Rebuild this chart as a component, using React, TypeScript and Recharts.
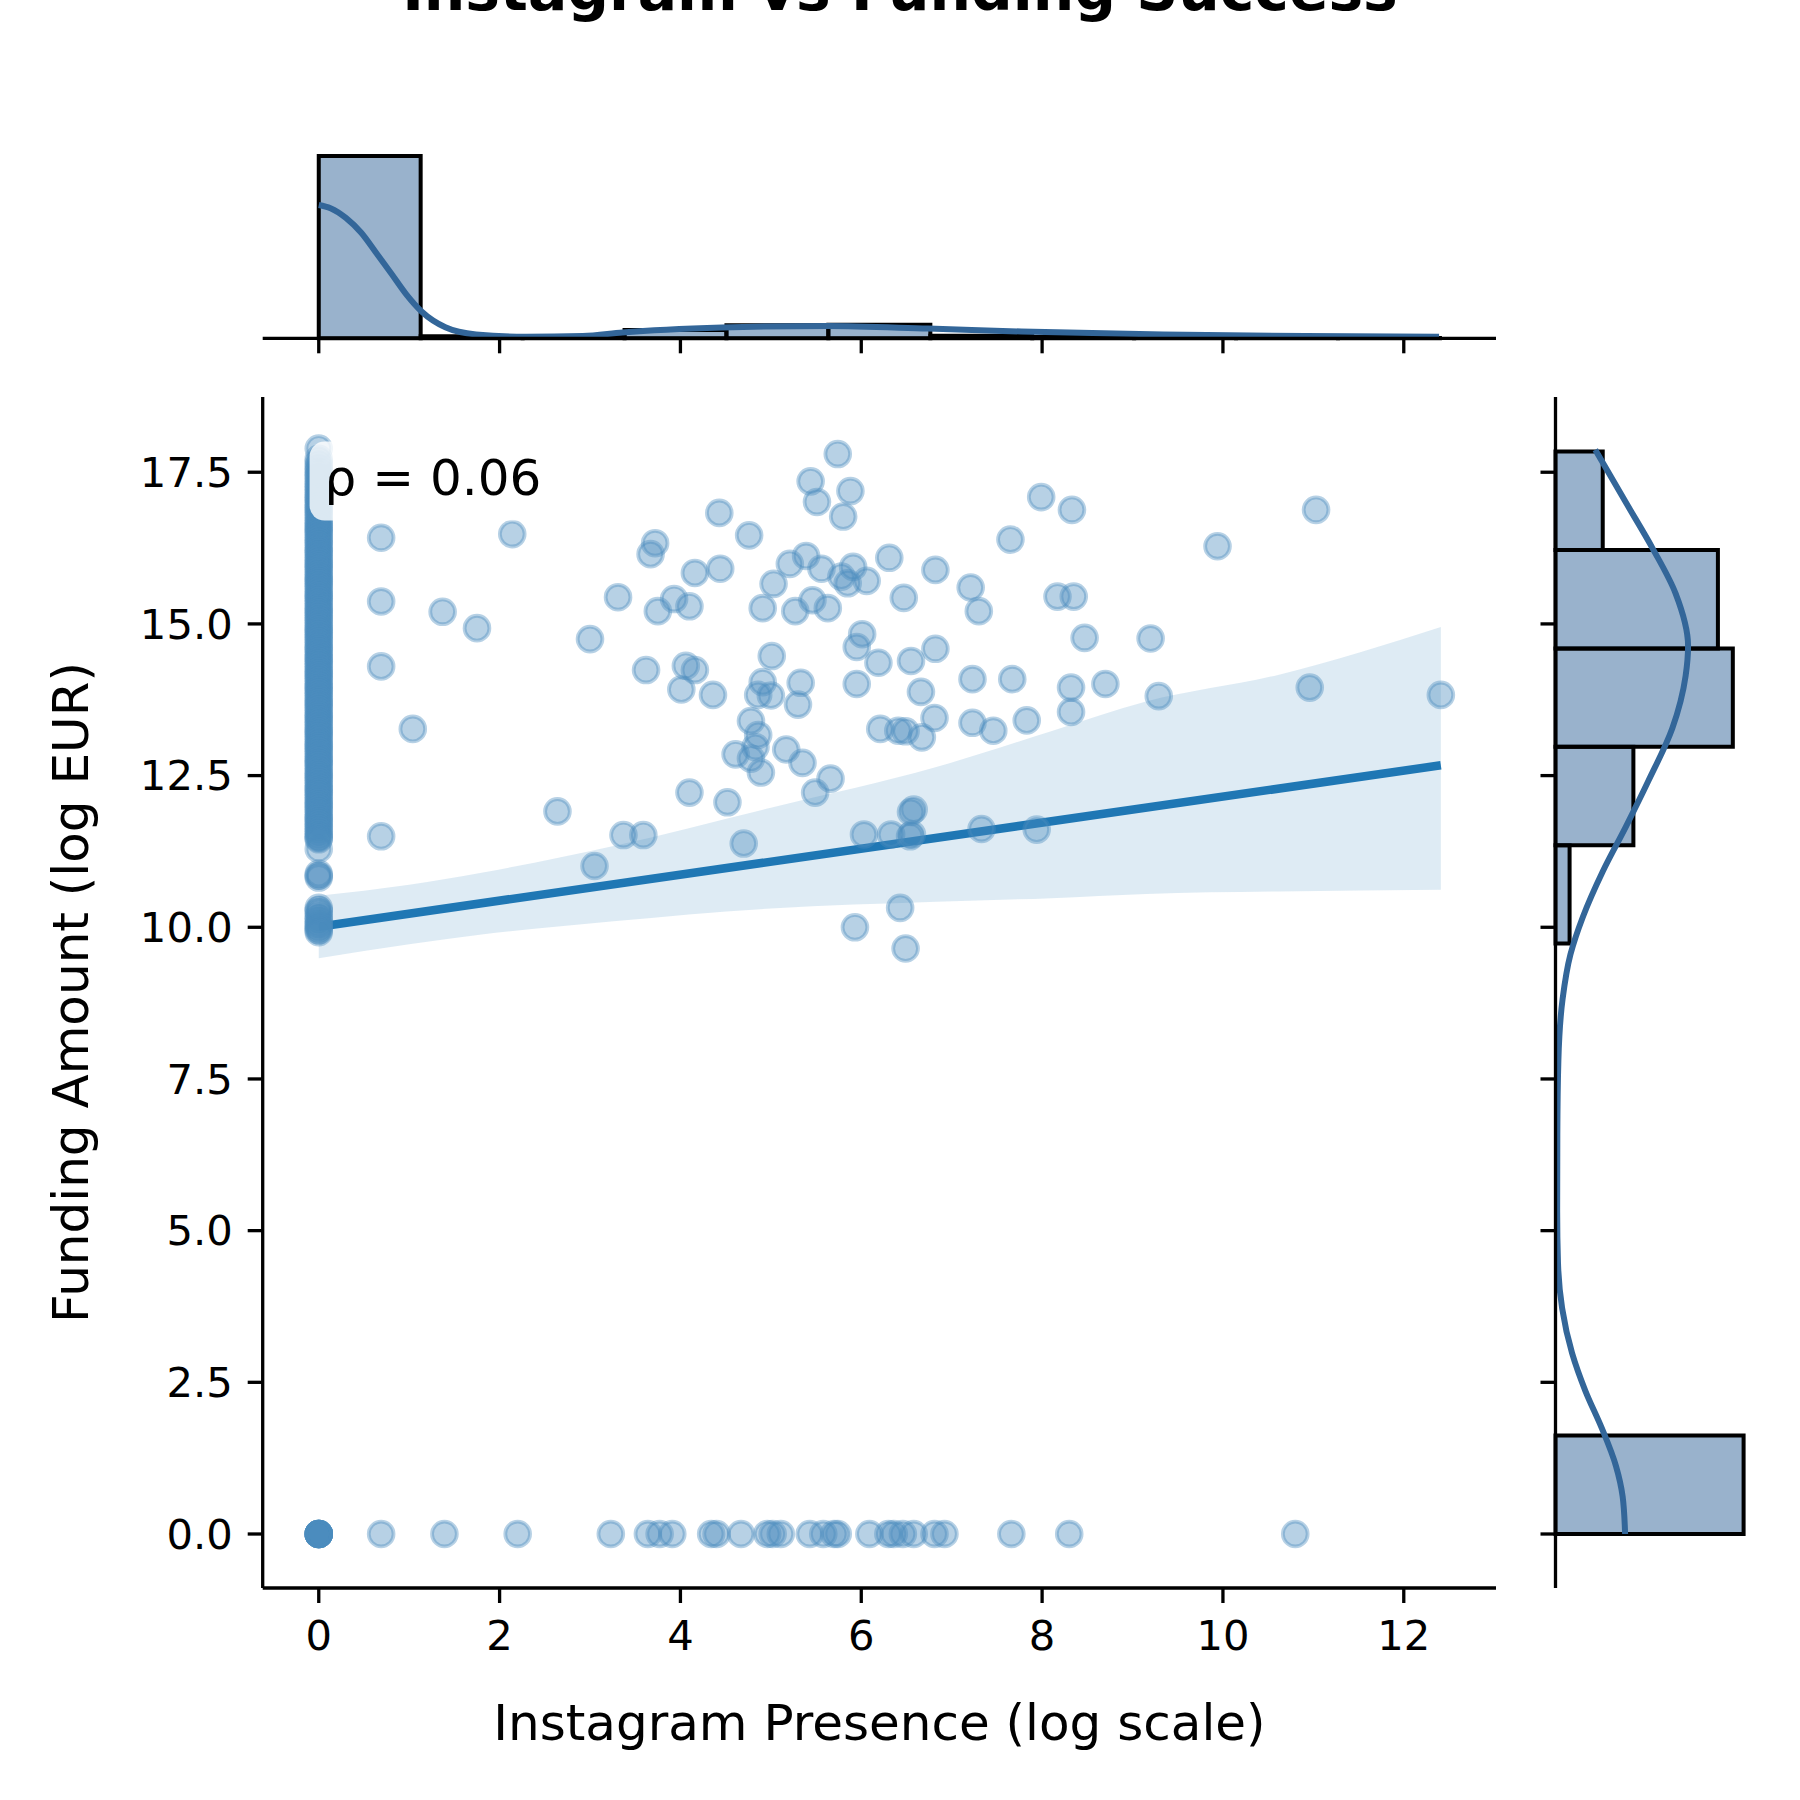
import React from 'react';
import { ComposedChart, Scatter, Line, Area, XAxis, YAxis, ReferenceArea } from 'recharts';

// scattered startups (instagram presence, funding amount)
const instagramX = [
  0.69, 2.14, 0.69, 1.37, 1.75, 0.69, 1.04, 2.64, 0.69, 3.37, 3.59, 3.05, 4.43, 4.76, 3.72, 3.67,
  4.16, 4.44, 3.31, 3.93, 4.10, 3.75, 4.91, 5.03, 3.00, 5.01, 3.62, 4.06, 4.16, 4.01, 4.36, 4.91,
  4.86, 5.00, 4.78, 4.86, 4.83, 4.61, 4.78, 4.89, 4.10, 4.52, 4.70,
  5.74, 5.44, 5.88, 5.51, 5.80, 7.99, 8.33, 7.65, 9.94, 5.21, 5.39, 5.56, 5.78, 5.91, 5.85, 6.06,
  6.31, 6.82, 6.47, 7.21, 7.30, 8.17, 8.35, 5.46, 5.27, 5.63, 6.01, 5.95, 6.19, 6.55, 6.82, 8.47,
  9.20, 5.33, 5.95, 5.30, 7.23, 7.67, 8.32, 8.70, 9.29, 6.66, 8.32, 6.81, 7.23, 7.46, 7.83, 6.21,
  6.41, 6.49, 6.67, 5.17, 5.35, 5.66, 5.49, 6.58, 6.55, 6.03, 6.33, 6.56, 6.54, 7.33, 7.94, 6.43,
  5.93, 6.49, 11.03, 10.96, 12.41,
];
const fundingY = [
  16.42, 16.48, 15.37, 15.2, 14.93, 14.3, 13.27, 11.91, 11.5, 11.52, 11.52, 11.01, 16.83, 16.46, 16.33, 16.15,
  15.84, 15.91, 15.44, 15.41, 15.29, 15.21, 15.26, 15.66, 14.75, 14.47, 14.24, 14.31, 14.24, 13.92, 13.83, 14.04,
  13.83, 13.82, 13.4, 13.17, 12.97, 12.85, 12.78, 12.55, 12.22, 12.06, 11.38,
  17.8, 17.35, 17.19, 17.01, 16.77, 17.09, 16.88, 16.39, 16.28, 15.99, 16.12, 15.91, 15.78, 15.94, 15.67, 15.71,
  16.09, 15.89, 15.43, 15.6, 15.21, 15.45, 15.45, 15.39, 15.21, 15.26, 14.83, 14.62, 14.36, 14.39, 14.59, 14.77,
  14.76, 14.03, 14.01, 13.67, 14.09, 14.09, 13.95, 14.01, 13.81, 13.88, 13.55, 13.45, 13.37, 13.24, 13.41, 13.27,
  13.24, 13.23, 13.13, 12.93, 12.71, 12.45, 12.22, 11.94, 11.9, 11.53, 11.53, 11.53, 11.5, 11.62, 11.61, 10.32,
  10.0, 9.65, 16.88, 13.95, 13.83,
];
// funded startups with no instagram presence (x = 0)
const noInstagramFunding = [
  17.89, 17.72, 17.66, 17.6, 17.55, 17.5, 17.45, 17.41, 17.35, 17.3, 17.26, 17.22, 17.17, 17.12, 17.08, 17.05,
  17.0, 16.96, 16.92, 16.88, 16.84, 16.8, 16.75, 16.7, 16.66, 16.62, 16.58, 16.55, 16.51, 16.47, 16.42, 16.38,
  16.34, 16.3, 16.25, 16.21, 16.18, 16.14, 16.09, 16.05, 16.01, 15.97, 15.94, 15.9, 15.85, 15.81, 15.77, 15.73,
  15.7, 15.66, 15.62, 15.58, 15.53, 15.49, 15.46, 15.42, 15.38, 15.34, 15.29, 15.25, 15.22, 15.18, 15.14, 15.1,
  15.06, 15.02, 14.97, 14.93, 14.9, 14.86, 14.82, 14.78, 14.74, 14.7, 14.65, 14.61, 14.58, 14.54, 14.49, 14.45,
  14.42, 14.38, 14.34, 14.3, 14.25, 14.21, 14.18, 14.14, 14.1, 14.06, 14.01, 13.97, 13.94, 13.9, 13.86, 13.82,
  13.77, 13.73, 13.7, 13.66, 13.62, 13.58, 13.53, 13.49, 13.46, 13.42, 13.38, 13.34, 13.29, 13.25, 13.22, 13.18,
  13.14, 13.1, 13.05, 13.01, 12.98, 12.94, 12.9, 12.86, 12.81, 12.77, 12.74, 12.7, 12.66, 12.62, 12.57, 12.53,
  12.5, 12.46, 12.42, 12.38, 12.33, 12.29, 12.26, 12.22, 12.18, 12.14, 12.09, 12.05, 12.02, 11.98, 11.94, 11.9,
  11.85, 11.81, 11.78, 11.74, 11.7, 11.66, 11.62, 11.58, 11.54, 11.5, 11.47, 11.45,
  11.29, 10.88, 10.85, 10.82, 10.32, 10.28, 10.25, 10.18, 10.14, 10.1, 10.05, 10.02, 9.98, 9.95, 9.92,
];
// startups without funding (y = 0)
const noFundingInstagram = [
  0, 0, 0, 0, 0, 0, 0, 0, 0, 0, 0.69, 1.39, 2.2, 3.23, 3.64, 3.77, 3.91, 4.34, 4.4, 4.67, 4.96, 5.02, 5.11,
  5.43, 5.58, 5.7, 5.74, 6.09, 6.3, 6.36, 6.46, 6.58, 6.81, 6.92, 7.66, 8.3, 10.8,
];

// regression fit and its confidence band
const fitX = [0, 12.41];
const fitY = [10.01, 12.67];
const bandX = [0, 1.0, 1.8, 3.26, 5.0, 6.83, 8.1, 9.15, 10.61, 12.41];
const bandLow = [9.49, 9.72, 9.88, 10.1, 10.31, 10.42, 10.48, 10.55, 10.59, 10.62];
const bandHigh = [10.52, 10.7, 10.9, 11.34, 11.97, 12.64, 13.23, 13.72, 14.16, 14.95];

// marginal histogram of instagram presence
const topBinEdges = [0, 1.127, 2.255, 3.382, 4.509, 5.636, 6.764, 7.891, 9.018, 10.145, 11.273, 12.4];
const topCounts = [563, 6, 6, 26, 40, 42, 8, 4, 2, 1, 1];
const topKdeX = [0, 0.13, 0.3, 0.47, 0.63, 0.8, 0.97, 1.14, 1.4, 1.74, 2.29, 2.92, 3.36, 4.46, 5.62, 6.74, 7.77, 9.34, 10.91, 12.39];
const topKdeY = [412, 402, 372, 326, 266, 201, 135, 82, 34, 12, 5, 7, 18, 33, 38, 30, 21, 12, 7, 5];

// marginal histogram of funding amount
const rightBinEdges = [0, 1.622, 3.244, 4.865, 6.487, 8.109, 9.731, 11.353, 12.975, 14.596, 16.218, 17.84];
const rightCounts = [227, 0, 0, 0, 0, 0, 17, 94, 214, 196, 57];
const rightKdeY = [0, 0.62, 1.12, 1.74, 2.36, 2.98, 3.72, 4.47, 5.33, 6.58, 7.82, 8.81, 9.55, 10.17, 10.92, 11.66, 12.41, 13.28, 14.14, 14.64, 15.5, 16.25, 17.0, 17.87];
const rightKdeD = [84, 81, 73, 56, 36, 20, 8, 3, 2, 2.2, 3.5, 8.5, 18, 33, 57, 85, 112, 141, 157, 160, 145, 117, 85, 48];

const xTicks = [0, 2, 4, 6, 8, 10, 12];
const yTicks = [0, 2.5, 5, 7.5, 10, 12.5, 15, 17.5];

const FONT = 'DejaVu Sans';
const SPINE = 3.3;
const X_DOMAIN = [-0.62, 13.02];
const Y_DOMAIN = [-0.89, 18.74];

const points = [
  ...noInstagramFunding.map((y) => ({ x: 0, y })),
  ...noFundingInstagram.map((x) => ({ x, y: 0 })),
  ...instagramX.map((x, i) => ({ x, y: fundingY[i] })),
];
const fitData = fitX.map((x, i) => ({ x, y: fitY[i] }));
const bandData = bandX.map((x, i) => ({ x, band: [bandLow[i], bandHigh[i]] }));
const topKde = topKdeX.map((x, i) => ({ x, d: topKdeY[i] }));
const rightKde = rightKdeY.map((y, i) => ({ y, d: rightKdeD[i] }));

const dot = (props: any) => (
  <circle
    cx={props.cx}
    cy={props.cy}
    r={12.4}
    fill="#4a8bbf"
    fillOpacity={0.4}
    stroke="#4a8bbf"
    strokeOpacity={0.4}
    strokeWidth={3.8}
  />
);

const tickStyle = { fill: '#000', fontSize: 41.7, fontFamily: FONT };
const noLabel = () => '';

export default function App() {
  const layer: React.CSSProperties = { position: 'absolute', left: 0, top: 0 };
  return (
    <div style={{ position: 'absolute', left: 0, top: 0, width: 1800, height: 1800, background: '#fff', fontFamily: FONT, overflow: 'hidden' }}>
      {/* joint scatter + regression */}
      <div style={layer}>
        <ComposedChart width={1800} height={1800} margin={{ top: 397, right: 304, bottom: 112, left: 142.7 }}>
          <XAxis
            dataKey="x"
            type="number"
            domain={X_DOMAIN}
            allowDataOverflow
            ticks={xTicks}
            height={100}
            tickSize={15}
            tickMargin={17}
            tick={tickStyle}
            axisLine={{ stroke: '#000', strokeWidth: SPINE }}
            tickLine={{ stroke: '#000', strokeWidth: SPINE }}
          />
          <YAxis
            dataKey="y"
            type="number"
            domain={Y_DOMAIN}
            allowDataOverflow
            ticks={yTicks}
            width={120}
            tickSize={15}
            tickMargin={15}
            tick={tickStyle}
            tickFormatter={(v: number) => v.toFixed(1)}
            axisLine={{ stroke: '#000', strokeWidth: SPINE }}
            tickLine={{ stroke: '#000', strokeWidth: SPINE }}
          />
          <Scatter data={points} shape={dot} isAnimationActive={false} />
          <Area
            data={bandData}
            dataKey="band"
            type="monotone"
            stroke="none"
            fill="#1f77b4"
            fillOpacity={0.15}
            isAnimationActive={false}
          />
          <Line
            data={fitData}
            dataKey="y"
            type="linear"
            stroke="#1f77b4"
            strokeWidth={8.5}
            dot={false}
            isAnimationActive={false}
          />
        </ComposedChart>
      </div>

      {/* top marginal histogram */}
      <div style={layer}>
        <ComposedChart width={1800} height={400} margin={{ top: 147, right: 304, bottom: 31.7, left: 262.7 }}>
          <XAxis
            dataKey="x"
            type="number"
            domain={X_DOMAIN}
            allowDataOverflow
            ticks={xTicks}
            height={30}
            tickSize={15}
            tickFormatter={noLabel}
            axisLine={{ stroke: '#000', strokeWidth: SPINE }}
            tickLine={{ stroke: '#000', strokeWidth: SPINE }}
          />
          <YAxis type="number" domain={[0, 591.15]} allowDataOverflow hide />
          {topCounts.map((c, i) =>
            c > 0 ? (
              <ReferenceArea
                key={i}
                x1={topBinEdges[i]}
                x2={topBinEdges[i + 1]}
                y1={0}
                y2={c}
                fill="#336699"
                fillOpacity={0.5}
                stroke="#000"
                strokeWidth={4}
                strokeOpacity={1}
              />
            ) : null
          )}
          <Line data={topKde} dataKey="d" type="monotone" stroke="#336699" strokeWidth={6} dot={false} isAnimationActive={false} />
        </ComposedChart>
      </div>

      {/* right marginal histogram */}
      <div style={layer}>
        <ComposedChart layout="vertical" width={1800} height={1800} margin={{ top: 397, right: 47, bottom: 212, left: 1525.5 }}>
          <XAxis type="number" domain={[0, 238.35]} allowDataOverflow hide />
          <YAxis
            dataKey="y"
            type="number"
            domain={Y_DOMAIN}
            allowDataOverflow
            reversed
            ticks={yTicks}
            width={30}
            tickSize={15}
            tickFormatter={noLabel}
            axisLine={{ stroke: '#000', strokeWidth: SPINE }}
            tickLine={{ stroke: '#000', strokeWidth: SPINE }}
          />
          {rightCounts.map((c, i) =>
            c > 0 ? (
              <ReferenceArea
                key={i}
                x1={0}
                x2={c}
                y1={rightBinEdges[i]}
                y2={rightBinEdges[i + 1]}
                fill="#336699"
                fillOpacity={0.5}
                stroke="#000"
                strokeWidth={4}
                strokeOpacity={1}
              />
            ) : null
          )}
          <Line data={rightKde} dataKey="d" type="monotone" stroke="#336699" strokeWidth={6} dot={false} isAnimationActive={false} />
        </ComposedChart>
      </div>

      {/* title, axis labels and the correlation box */}
      <svg width={1800} height={1800} style={{ ...layer, pointerEvents: 'none' }}>
        <text x={900} y={10} textAnchor="middle" fontSize={58.3} fontWeight="bold" fontFamily={FONT} fill="#000">
          Instagram vs Funding Success
        </text>
        <text x={879.4} y={1740} textAnchor="middle" fontSize={50} fontFamily={FONT} fill="#000">
          Instagram Presence (log scale)
        </text>
        <text transform="translate(88,992.5) rotate(-90)" textAnchor="middle" fontSize={50} fontFamily={FONT} fill="#000">
          Funding Amount (log EUR)
        </text>
        <rect x={309.6} y={441.6} width={242.4} height={79} rx={15} fill="#fff" fillOpacity={0.8} />
        <text x={324.6} y={495} fontSize={50} fontFamily={FONT} fill="#000">
          ρ = 0.06
        </text>
      </svg>
    </div>
  );
}
